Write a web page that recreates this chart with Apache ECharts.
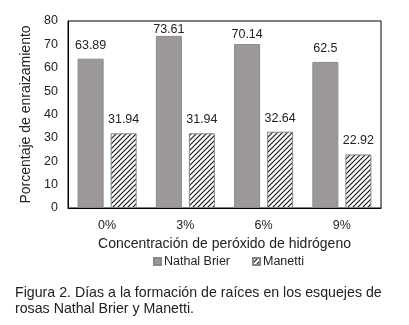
<!DOCTYPE html>
<html>
<head>
<meta charset="utf-8">
<script src="https://cdn.jsdelivr.net/npm/echarts@6/dist/echarts.min.js"></script>
<style>
  html, body { margin: 0; padding: 0; background: #fff; }
  #chart { width: 409px; height: 325px; }
</style>
</head>
<body>
<div id="chart"></div>
<script>
var categories = ['0%', '3%', '6%', '9%'];
var nathalBrier = [63.89, 73.61, 70.14, 62.5];
var manetti = [31.94, 31.94, 32.64, 22.92];
var yTicks = [0, 10, 20, 30, 40, 50, 60, 70, 80];

var FONT = 'Liberation Sans, Arial, sans-serif';

// relleno punteado gris de las barras
function stipple() {
  var c = document.createElement('canvas');
  c.width = 4; c.height = 4;
  var ctx = c.getContext('2d');
  ctx.fillStyle = '#9b9b9b';
  ctx.fillRect(0, 0, 4, 4);
  ctx.fillStyle = '#a494a4';
  ctx.fillRect(0, 0, 1, 1);
  ctx.fillRect(2, 2, 1, 1);
  ctx.fillStyle = '#8c948c';
  ctx.fillRect(2, 0, 1, 1);
  ctx.fillRect(0, 2, 1, 1);
  return c;
}

// rayado diagonal de Manetti
function hatch() {
  var c = document.createElement('canvas');
  c.width = 5; c.height = 5;
  var ctx = c.getContext('2d');
  ctx.fillStyle = '#fff';
  ctx.fillRect(0, 0, 5, 5);
  ctx.strokeStyle = '#111';
  ctx.lineWidth = 1.1;
  ctx.beginPath();
  ctx.moveTo(-1, 6); ctx.lineTo(6, -1);
  ctx.moveTo(-1, 1); ctx.lineTo(1, -1);
  ctx.moveTo(4, 6); ctx.lineTo(6, 4);
  ctx.stroke();
  return c;
}

// ajuste de distancia de etiquetas cerca del borde superior
function labelData(values) {
  return values.map(function (v) {
    var d = 7;
    if (v > 72) d = 0;
    else if (v > 68) d = 3;
    return { value: v, label: { distance: d } };
  });
}

var myChart = echarts.init(document.getElementById('chart'));

var option = {
  animation: false,
  textStyle: { fontFamily: FONT },
  grid: {
    left: 68, right: 28, top: 21, bottom: 117,
    show: true, borderColor: '#000', borderWidth: 1
  },
  legend: {
    top: 250,
    left: 148,
    itemWidth: 7,
    itemHeight: 7,
    itemGap: 22,
    textStyle: { fontSize: 12.5, color: '#222', fontFamily: FONT, padding: [0, 0, 0, -2] },
    data: [
      { name: 'Nathal Brier', icon: 'rect' },
      { name: 'Manetti', icon: 'rect' }
    ]
  },
  xAxis: {
    type: 'category',
    data: categories,
    name: 'Concentración de peróxido de hidrógeno',
    nameLocation: 'middle',
    nameGap: 28,
    nameTextStyle: { fontSize: 14, color: '#222', fontFamily: FONT },
    axisLine: { lineStyle: { color: '#000' } },
    axisTick: { show: false },
    axisLabel: { fontSize: 12.5, color: '#222', margin: 11 }
  },
  yAxis: {
    type: 'value',
    min: yTicks[0],
    max: yTicks[yTicks.length - 1],
    interval: 10,
    name: 'Porcentaje de enraizamiento',
    nameLocation: 'middle',
    nameGap: 30,
    nameTextStyle: { fontSize: 14, color: '#222', fontFamily: FONT },
    axisLine: { show: true, lineStyle: { color: '#000' } },
    axisTick: { show: false },
    splitLine: { show: false },
    axisLabel: { fontSize: 12.5, color: '#222', margin: 10 }
  },
  series: [
    {
      name: 'Nathal Brier',
      type: 'bar',
      barWidth: 26,
      barGap: '27%',
      data: labelData(nathalBrier),
      itemStyle: {
        color: { image: stipple(), repeat: 'repeat' },
        borderColor: '#8a8a8a',
        borderWidth: 1
      },
      label: { show: true, position: 'top', fontSize: 12.5, color: '#222', fontFamily: FONT }
    },
    {
      name: 'Manetti',
      type: 'bar',
      barWidth: 26,
      data: labelData(manetti),
      itemStyle: {
        color: { image: hatch(), repeat: 'repeat' },
        borderColor: '#7a8a7a',
        borderWidth: 1
      },
      label: { show: true, position: 'top', fontSize: 12.5, color: '#222', fontFamily: FONT }
    }
  ],
  graphic: [
    {
      type: 'text', left: 15, top: 286,
      style: {
        text: 'Figura 2. Días a la formación de raíces en los esquejes de',
        font: '14.2px ' + FONT, fill: '#222'
      }
    },
    {
      type: 'text', left: 15, top: 302,
      style: {
        text: 'rosas Nathal Brier y Manetti.',
        font: '14.2px ' + FONT, fill: '#222'
      }
    }
  ]
};

myChart.setOption(option);
</script>
</body>
</html>
